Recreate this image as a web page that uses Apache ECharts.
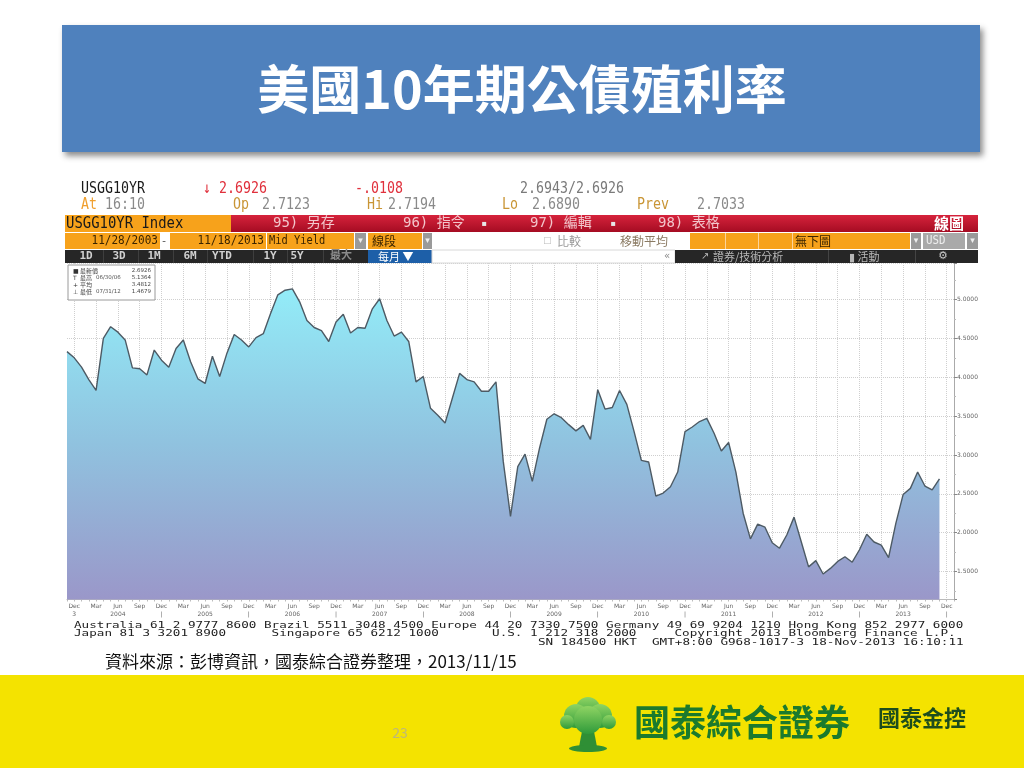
<!DOCTYPE html>
<html><head><meta charset="utf-8">
<script src="https://cdn.jsdelivr.net/npm/echarts@6/dist/echarts.min.js"></script>
<style>html,body{margin:0;padding:0;background:#fff}#c{width:1024px;height:768px}</style>
</head><body><div id="c"></div>
<script>
// ---------- data ----------
const startYear = 2003, startMonth = 11, monthCount = 123; // Nov 2003 .. Jan 2014 (axis span)
const monthNames = ['Jan','Feb','Mar','Apr','May','Jun','Jul','Aug','Sep','Oct','Nov','Dec'];
const yields = [
 4.33,4.25,4.13,3.97,3.83,4.50,4.65,4.58,4.48,4.12,4.11,4.03,4.35,4.22,4.13,4.37,4.48,4.20,3.98,3.92,
 4.27,4.01,4.31,4.55,4.48,4.39,4.51,4.56,4.82,5.06,5.12,5.1364,4.97,4.73,4.64,4.60,4.46,4.71,4.81,4.57,
 4.64,4.63,4.88,5.01,4.73,4.53,4.58,4.46,3.94,4.01,3.60,3.51,3.41,3.73,4.05,3.97,3.94,3.82,3.82,3.94,
 2.92,2.21,2.85,3.01,2.66,3.09,3.46,3.53,3.48,3.39,3.31,3.38,3.20,3.84,3.59,3.61,3.83,3.65,3.30,2.93,
 2.91,2.47,2.51,2.59,2.78,3.30,3.36,3.43,3.47,3.28,3.05,3.16,2.78,2.25,1.92,2.11,2.07,1.87,1.80,1.97,
 2.20,1.88,1.56,1.64,1.4679,1.54,1.63,1.69,1.62,1.78,1.98,1.88,1.84,1.68,2.12,2.49,2.57,2.78,2.60,2.55,
 2.6926
];
const lastPrice = 2.6926;
const yMin = 1.14, yMax = 5.47;
const legendRows = [
 ['■','最新價','','2.6926'],
 ['T','最高','06/30/06','5.1364'],
 ['+','平均','','3.4812'],
 ['⊥','最低','07/31/12','1.4679']
];
const periodButtons = ['1D','3D','1M','6M','YTD','1Y','5Y','最大'];
const footerLines = [
 'Australia 61 2 9777 8600 Brazil 5511 3048 4500 Europe 44 20 7330 7500 Germany 49 69 9204 1210 Hong Kong 852 2977 6000',
 'Japan 81 3 3201 8900      Singapore 65 6212 1000       U.S. 1 212 318 2000     Copyright 2013 Bloomberg Finance L.P.',
 'SN 184500 HKT  GMT+8:00 G968-1017-3 18-Nov-2013 16:10:11'
];

const categories = [];
for (let i = 0; i < monthCount; i++) {
  const m0 = startMonth - 1 + i;
  categories.push((startYear + Math.floor(m0 / 12)) + '-' + ((m0 % 12) + 1));
}
function monthOf(idx){ return ((startMonth - 1 + idx) % 12) + 1; }
function isQuarter(idx){ return monthOf(idx) % 3 === 0; }

// ---------- helpers ----------
const CJK = '"Noto Sans CJK TC","Noto Sans CJK SC",sans-serif';
const MONO = '"DejaVu Sans Mono","Liberation Mono","Noto Sans CJK TC",monospace';
const SANS = '"DejaVu Sans","Noto Sans CJK TC",sans-serif';
function T(x, y, text, o) {
  o = o || {};
  const a = o.a || 'left';
  return { type:'text', x:x, y:y, scaleX:o.sx || 1, z:o.z || 20, silent:true,
    style:{ text:text, fill:o.c || '#000',
      font:(o.w || 'normal') + ' ' + (o.s || 12) + 'px ' + (o.f || CJK),
      align:a, textAlign:a, verticalAlign:'middle', textVerticalAlign:'middle' } };
}
function R(x, y, w, h, fill, o) {
  o = o || {};
  const st = { fill:fill };
  if (o.stroke) { st.stroke = o.stroke; st.lineWidth = o.lw || 1; }
  if (o.shadow) { st.shadowBlur = 6; st.shadowOffsetX = 3; st.shadowOffsetY = 4; st.shadowColor = 'rgba(0,0,0,0.45)'; }
  return { type:'rect', shape:{x:x, y:y, width:w, height:h, r:o.r || 0}, style:st, z:o.z || 10, silent:true };
}
const G = [];
const ORANGE = '#F7A21B';

// title
G.push(R(62, 25, 918, 127, '#4F81BD', {shadow:true}));
G.push(T(522, 89, '美國10年期公債殖利率', {s:52, w:'bold', c:'#fff', a:'center'}));

// header rows 1-2
const hs = 0.83;
G.push(T(81, 189, 'USGG10YR', {s:16, f:MONO, c:'#1a1a1a', sx:hs}));
G.push(T(203, 189, '↓ 2.6926', {s:16, f:MONO, c:'#e0303c', sx:hs}));
G.push(T(355, 189, '-.0108', {s:16, f:MONO, c:'#e0303c', sx:hs}));
G.push(T(520, 189, '2.6943/2.6926', {s:16, f:MONO, c:'#7a7a7a', sx:hs}));
G.push(T(81, 205, 'At', {s:16, f:MONO, c:'#f0a030', sx:hs}));
G.push(T(105, 205, '16:10', {s:16, f:MONO, c:'#8a8a8a', sx:hs}));
[['Op',233,'2.7123',262],['Hi',367,'2.7194',388],['Lo',502,'2.6890',532],['Prev',637,'2.7033',697]].forEach(function(r){
  G.push(T(r[1], 205, r[0], {s:16, f:MONO, c:'#c99535', sx:hs}));
  G.push(T(r[3], 205, r[2], {s:16, f:MONO, c:'#8a8a8a', sx:hs}));
});

// row 3 (red bar)
G.push(R(65, 215, 166, 17, ORANGE));
G.push(R(231, 215, 747, 17, new echarts.graphic.LinearGradient(0,0,0,1,[{offset:0,color:'#d6233c'},{offset:1,color:'#a50c22'}])));
G.push(T(66, 223.5, 'USGG10YR Index', {s:16, f:MONO, c:'#1a1a1a', sx:0.87}));
[['95) 另存',273],['96) 指令',403],['97) 編輯',530],['98) 表格',658]].forEach(function(r){
  G.push(T(r[1], 223.5, r[0], {s:14, f:MONO, c:'#f3c6cc'}));
});
G.push(T(484, 223.5, '▪', {s:8, c:'#e8e8e8', a:'center', f:SANS}));
G.push(T(613, 223.5, '▪', {s:8, c:'#e8e8e8', a:'center', f:SANS}));
G.push(T(964, 223.5, '線圖', {s:15, w:'bold', c:'#ffffff', a:'right'}));

// row 4
G.push(R(65, 233, 95, 16, ORANGE));
G.push(R(170, 233, 96, 16, ORANGE));
G.push(R(267, 233, 87, 16, ORANGE));
G.push(R(355, 233, 11, 16, '#9a9a9a'));
G.push(R(368, 233, 54, 16, ORANGE));
G.push(R(423, 233, 9, 16, '#9a9a9a'));
G.push(R(690, 233, 220, 16, ORANGE));
[725, 758, 792].forEach(function(x){ G.push(R(x, 233, 1, 16, '#fbd39a')); });
G.push(R(911, 233, 10, 16, '#9a9a9a'));
G.push(R(923, 233, 42, 16, '#a9a9a9'));
G.push(R(967, 233, 11, 16, '#9a9a9a'));
G.push(T(158, 241, '11/28/2003', {s:13, f:MONO, c:'#3a2400', a:'right', sx:0.85}));
G.push(T(164, 241, '-', {s:11, f:MONO, c:'#555', a:'center'}));
G.push(T(264, 241, '11/18/2013', {s:13, f:MONO, c:'#3a2400', a:'right', sx:0.85}));
G.push(T(269, 241, 'Mid Yield', {s:13, f:MONO, c:'#3a2400', sx:0.8}));
G.push(T(360.5, 241, '▾', {s:9, f:SANS, c:'#eee', a:'center'}));
G.push(T(372, 241, '線段', {s:12, c:'#3a2400'}));
G.push(T(427.5, 241, '▾', {s:9, f:SANS, c:'#eee', a:'center'}));
G.push(T(543, 241, '□', {s:9, f:SANS, c:'#bbb'}));
G.push(T(557, 241, '比較', {s:12, c:'#9a9a9a'}));
G.push(T(620, 241, '移動平均', {s:12, c:'#8a7a62'}));
G.push(T(795, 241, '無下圖', {s:12, c:'#3a2400'}));
G.push(T(916, 241, '▾', {s:9, f:SANS, c:'#eee', a:'center'}));
G.push(T(926, 241, 'USD', {s:12, f:MONO, c:'#eeeeee', sx:0.9}));
G.push(T(972.5, 241, '▾', {s:9, f:SANS, c:'#eee', a:'center'}));

// row 5
G.push(R(65, 250, 303, 13, '#262626'));
G.push(R(368, 250, 64, 13, '#1d5fa8'));
G.push(R(432, 250, 243, 13, '#ffffff', {stroke:'#d8d8d8'}));
G.push(R(675, 250, 303, 13, '#262626'));
const btnX = [86, 119, 154, 190, 222, 270, 297, 341];
periodButtons.forEach(function(b, i){
  G.push(T(btnX[i], 256.5, b, {s:11, w:'bold', f:MONO, c: i === 7 ? '#8a8a8a' : '#d0d0d0', a:'center'}));
});
[103, 138, 173, 207, 253, 287, 323].forEach(function(x){ G.push(R(x, 250, 1, 13, '#3e3e3e', {z:11})); });
G.push(T(378, 256.5, '每月 ▼', {s:11, c:'#ffffff'}));
G.push(T(664, 256.5, '«', {s:10, f:SANS, c:'#888'}));
G.push(T(701, 256.5, '↗', {s:10, f:SANS, c:'#bbb'}));
G.push(T(713, 256.5, '證券/技術分析', {s:11, c:'#b8b8b8'}));
G.push(R(828, 250, 1, 13, '#444', {z:11}));
G.push(T(849, 256.5, '▮ 活動', {s:11, c:'#b8b8b8'}));
G.push(R(915, 250, 1, 13, '#444', {z:11}));
G.push(T(943, 256.5, '⚙', {s:11, f:SANS, c:'#c8c8c8', a:'center'}));

// legend box in plot
G.push(R(68, 265, 87, 35, '#ffffff', {stroke:'#9a9a9a', z:100}));
legendRows.forEach(function(r, i){
  const y = 271 + i * 7;
  G.push(T(73, y, r[0], {s:6, f:SANS, c:'#333', z:101}));
  G.push(T(80, y, r[1], {s:6, c:'#444', z:101}));
  if (r[2]) G.push(T(96, y, r[2], {s:5.5, f:SANS, c:'#555', z:101}));
  G.push(T(151, y, r[3], {s:5.5, f:SANS, c:'#444', a:'right', z:101}));
});

// bloomberg footer lines
const fy = [625.5, 634, 642.5];
const fsx = 7.6 / (9 * 0.602);
G.push(T(74, fy[0], footerLines[0], {s:9, f:MONO, c:'#222', sx:fsx}));
G.push(T(74, fy[1], footerLines[1], {s:9, f:MONO, c:'#222', sx:fsx}));
G.push(T(538, fy[2], footerLines[2], {s:9, f:MONO, c:'#222', sx:fsx}));

// source
G.push(T(105, 662, '資料來源：彭博資訊，國泰綜合證券整理，2013/11/15', {s:17, c:'#111'}));

// yellow band + logo
G.push(R(0, 675, 1024, 93, '#F4E300', {z:5}));
G.push(T(400, 733, '23', {s:14, c:'#bdb77a', a:'center'}));
const trunkGreen = '#2f8f35';
G.push({type:'polygon', shape:{points:[[583,726],[593,726],[597,747],[579,747]]}, style:{fill:trunkGreen}, z:12, silent:true});
G.push({type:'ellipse', shape:{cx:588, cy:748.5, rx:19, ry:3.5}, style:{fill:trunkGreen}, z:12, silent:true});
const crownFill = new echarts.graphic.LinearGradient(0,0,0,1,[{offset:0,color:'#8fd463'},{offset:1,color:'#2e9a3a'}], true);
[[588,709,12],[576,716,12],[600,716,12],[588,720,14],[567,722,7],[609,722,7]].forEach(function(c){
  G.push({type:'circle', shape:{cx:c[0], cy:c[1], r:c[2]}, style:{fill:new echarts.graphic.LinearGradient(0,0,0,1,[{offset:0,color:'#8fd463'},{offset:1,color:'#2e9a3a'}])}, z:13, silent:true});
});
G.push(T(634, 722, '國泰綜合證券', {s:36, w:'bold', c:'#1b7a2d'}));
G.push(T(878, 718, '國泰金控', {s:22, w:'bold', c:'#1d4d1d'}));

// ---------- chart ----------
const chart = echarts.init(document.getElementById('c'), null, {renderer:'canvas'});
chart.setOption({
  animation:false,
  backgroundColor:'#ffffff',
  textStyle:{fontFamily:SANS},
  grid:{left:67, right:70, top:263, bottom:168.5},
  xAxis:{
    type:'category', data:categories, boundaryGap:false,
    axisLine:{lineStyle:{color:'#bbbbbb'}},
    axisTick:{show:true, interval:0, length:2, lineStyle:{color:'#bbbbbb'}},
    axisLabel:{
      interval:function(idx){ return isQuarter(idx); },
      formatter:function(v, idx){
        const parts = v.split('-'); const y = +parts[0]; const m = +parts[1];
        let second = '';
        if (m === 12) second = (idx <= 1) ? '3' : '|';
        else if (m === 6) second = String(y);
        return monthNames[m - 1] + '\n' + second;
      },
      fontSize:6, color:'#666', lineHeight:8, margin:3, fontFamily:SANS
    },
    splitLine:{show:true, interval:function(idx){ return isQuarter(idx); }, lineStyle:{type:'dotted', color:'#cfcfcf'}}
  },
  yAxis:{
    type:'value', position:'right', min:yMin, max:yMax, splitNumber:8,
    axisLine:{show:true, lineStyle:{color:'#aaaaaa'}},
    axisTick:{show:true, length:3, lineStyle:{color:'#888'}},
    minorTick:{show:true, splitNumber:2, length:2, lineStyle:{color:'#bbb'}},
    axisLabel:{showMinLabel:false, showMaxLabel:false, formatter:function(v){ return v.toFixed(4); }, fontSize:6, color:'#666', margin:3},
    splitLine:{show:true, lineStyle:{type:'dotted', color:'#cfcfcf'}}
  },
  series:[{
    type:'line', data:yields, symbol:'none', silent:true,
    lineStyle:{color:'#4d5a64', width:1.4},
    areaStyle:{opacity:1, color:new echarts.graphic.LinearGradient(0,0,0,1,[
      {offset:0, color:'#93ECF8'}, {offset:0.5, color:'#90C2DF'}, {offset:1, color:'#9A97C9'}])},
    markLine:{
      silent:true, symbol:['none','none'],
      lineStyle:{opacity:0},
      label:{position:'end', formatter:function(){ return lastPrice.toFixed(4); }, backgroundColor:'#111', color:'#fff', fontSize:6, padding:[1,2], borderRadius:2, distance:2},
      data:[{yAxis:lastPrice}]
    }
  }],
  graphic:G
});
</script>
</body></html>
